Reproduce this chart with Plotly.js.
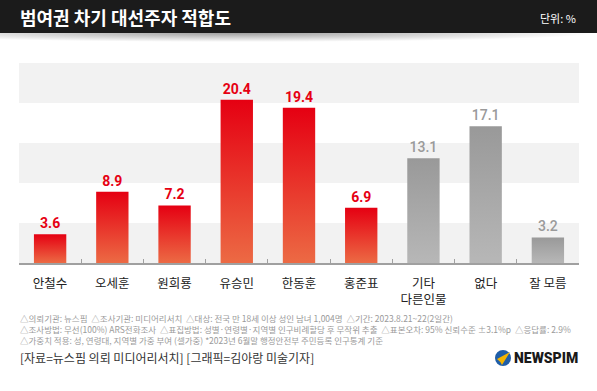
<!DOCTYPE html>
<html>
<head>
<meta charset="utf-8">
<script src="https://cdn.plot.ly/plotly-3.0.1.min.js"></script>
<style>
  html, body { margin:0; padding:0; background:#fff; }
  #wrap { position:relative; width:597px; height:391px; overflow:hidden; background:#fff; }
  #hdr { position:absolute; left:0; top:0; width:597px; height:33px; background:#1b1b1b; }
  #shadow { position:absolute; left:0; top:33px; width:597px; height:9px;
    background: radial-gradient(ellipse 60% 100% at 40% 0%, rgba(0,0,0,0.38), rgba(0,0,0,0) 100%); }
  #chart { position:absolute; left:0; top:0; width:597px; height:391px; }
</style>
</head>
<body>
<div id="wrap">
  <div id="hdr"></div>
  <div id="shadow"></div>
  <div id="chart"></div>
</div>
<script>
// ---- data ----
const categories = ["안철수","오세훈","원희룡","유승민","한동훈","홍준표","기타<br>다른인물","없다","잘 모름"];
const redCategories = ["안철수","오세훈","원희룡","유승민","한동훈","홍준표"];
const redValues = [3.6, 8.9, 7.2, 20.4, 19.4, 6.9];
const grayCategories = ["기타<br>다른인물","없다","잘 모름"];
const grayValues = [13.1, 17.1, 3.2];
const titleText = "범여권 차기 대선주자 적합도";
const unitText = "단위: %";
const notes = [
  "△의뢰기관: 뉴스핌  △조사기관: 미디어리서치  △대상: 전국 만 18세 이상 성인 남녀 1,004명  △기간: 2023.8.21~22(2일간)",
  "△조사방법: 무선(100%) ARS전화조사  △표집방법: 성별·연령별·지역별 인구비례할당 후 무작위 추출  △표본오차: 95% 신뢰수준 ±3.1%p  △응답률: 2.9%",
  "△가중치 적용: 성, 연령대, 지역별 가중 부여 (셀가중) *2023년 6월말 행정안전부 주민등록 인구통계 기준"
];
const sourceText = "[자료=뉴스핌 의뢰 미디어리서치] [그래픽=김아랑 미술기자]";
const logoText = "NEWSPIM";
const bandRanges = [[0,5],[10,15],[20,25]];

// ---- layout helpers ----
const L = 19, R = 579, T = 63, B = 263;
const px = v => (v - L) / (R - L);
const py = v => (B - v) / (B - T);
const KR = "'Noto Sans CJK KR', 'Noto Sans', sans-serif";

const traces = [
  {
    type: "bar", x: redCategories, y: redValues,
    text: redValues.map(v => v.toFixed(1)), textposition: "outside",
    textfont: { family: "Roboto, 'Noto Sans', sans-serif", size: 14, color: "#e60012", weight: 700 },
    marker: { color: "#e8202a", line: { width: 0 } },
    width: 0.52, cliponaxis: false, constraintext: "none", hoverinfo: "none"
  },
  {
    type: "bar", x: grayCategories, y: grayValues,
    text: grayValues.map(v => v.toFixed(1)), textposition: "outside",
    textfont: { family: "Roboto, 'Noto Sans', sans-serif", size: 14, color: "#9a9a9a", weight: 500 },
    marker: { color: "#a6a6a6", line: { width: 0 } },
    width: 0.52, cliponaxis: false, constraintext: "none", hoverinfo: "none"
  }
];

const shapes = bandRanges.map(r => ({
  type: "rect", xref: "paper", yref: "y", x0: 0, x1: 1, y0: r[0], y1: r[1],
  fillcolor: "#f2f2f2", line: { width: 0 }, layer: "below"
}));
// logo circle + swoosh
shapes.push({
  type: "circle", xref: "paper", yref: "paper", xsizemode: "pixel", ysizemode: "pixel",
  xanchor: px(503), yanchor: py(358), x0: -8, x1: 8, y0: -8, y1: 8,
  fillcolor: "#1f5ea8", line: { width: 0 }
});
shapes.push({
  type: "path", xref: "paper", yref: "paper", xsizemode: "pixel", ysizemode: "pixel",
  xanchor: px(503), yanchor: py(358),
  path: "M 7 6 L -6 -1 Q -3 -3 -1 -7 Z",
  fillcolor: "#f4b400", line: { width: 0 }
});

const annotations = [
  { text: titleText, x: px(18), y: py(17), xref: "paper", yref: "paper", xanchor: "left", yanchor: "middle",
    showarrow: false, font: { family: KR, size: 18, color: "#ffffff", weight: 700 } },
  { text: unitText, x: px(578), y: py(18), xref: "paper", yref: "paper", xanchor: "right", yanchor: "middle",
    showarrow: false, font: { family: KR, size: 11, color: "#ffffff" } },
  { text: sourceText, x: px(18), y: py(357), xref: "paper", yref: "paper", xanchor: "left", yanchor: "middle",
    showarrow: false, font: { family: KR, size: 12, color: "#333333" } },
  { text: logoText, x: px(512), y: py(358), xref: "paper", yref: "paper", xanchor: "left", yanchor: "middle",
    showarrow: false, font: { family: "Roboto, 'DejaVu Sans', sans-serif", size: 14, color: "#1a1a1a", weight: 900 } }
];
[318, 329, 340].forEach((yy, i) => {
  annotations.push({ text: notes[i], x: px(18), y: py(yy), xref: "paper", yref: "paper",
    xanchor: "left", yanchor: "middle", showarrow: false,
    font: { family: KR, size: 8.5, color: "#9a9a9a" } });
});

const layout = {
  width: 597, height: 391,
  margin: { l: L, r: 597 - R, t: T, b: 391 - B, pad: 0 },
  paper_bgcolor: "rgba(0,0,0,0)", plot_bgcolor: "rgba(0,0,0,0)",
  barmode: "overlay", showlegend: false,
  xaxis: {
    type: "category", categoryorder: "array", categoryarray: categories,
    showline: true, linecolor: "#a0a0a0", linewidth: 1.5,
    ticks: "inside", tickson: "boundaries", ticklen: 4, tickcolor: "#a0a0a0", tickwidth: 1,
    tickfont: { family: KR, size: 12.5, color: "#222222" },
    ticklabelstandoff: 8, showgrid: false, fixedrange: true
  },
  yaxis: { range: [0, 25], visible: false, showgrid: false, zeroline: false, fixedrange: true },
  shapes: shapes, annotations: annotations
};

function applyGradients(gd) {
  const svg = gd.querySelector("svg.main-svg");
  if (!svg) return;
  let defs = svg.querySelector("defs");
  if (!defs) { defs = document.createElementNS("http://www.w3.org/2000/svg", "defs"); svg.insertBefore(defs, svg.firstChild); }
  const mk = (id, c1, c2) => {
    if (svg.querySelector("#" + id)) return;
    const g = document.createElementNS("http://www.w3.org/2000/svg", "linearGradient");
    g.setAttribute("id", id); g.setAttribute("x1", "0"); g.setAttribute("y1", "0");
    g.setAttribute("x2", "0"); g.setAttribute("y2", "1");
    [[0, c1], [1, c2]].forEach(([o, c]) => {
      const s = document.createElementNS("http://www.w3.org/2000/svg", "stop");
      s.setAttribute("offset", o); s.setAttribute("stop-color", c); g.appendChild(s);
    });
    defs.appendChild(g);
  };
  mk("gradRed", "#e50012", "#ec6a44");
  mk("gradGray", "#999999", "#b7b7b7");
  const tr = gd.querySelectorAll(".barlayer .trace.bars");
  tr.forEach((t, i) => {
    t.querySelectorAll(".point path").forEach(p => {
      p.style.fill = i === 0 ? "url(#gradRed)" : "url(#gradGray)";
    });
  });
}

const gd = document.getElementById("chart");
Plotly.newPlot(gd, traces, layout, { displayModeBar: false, staticPlot: true }).then(() => {
  applyGradients(gd);
  gd.on && gd.on("plotly_afterplot", () => applyGradients(gd));
});
</script>
</body>
</html>
